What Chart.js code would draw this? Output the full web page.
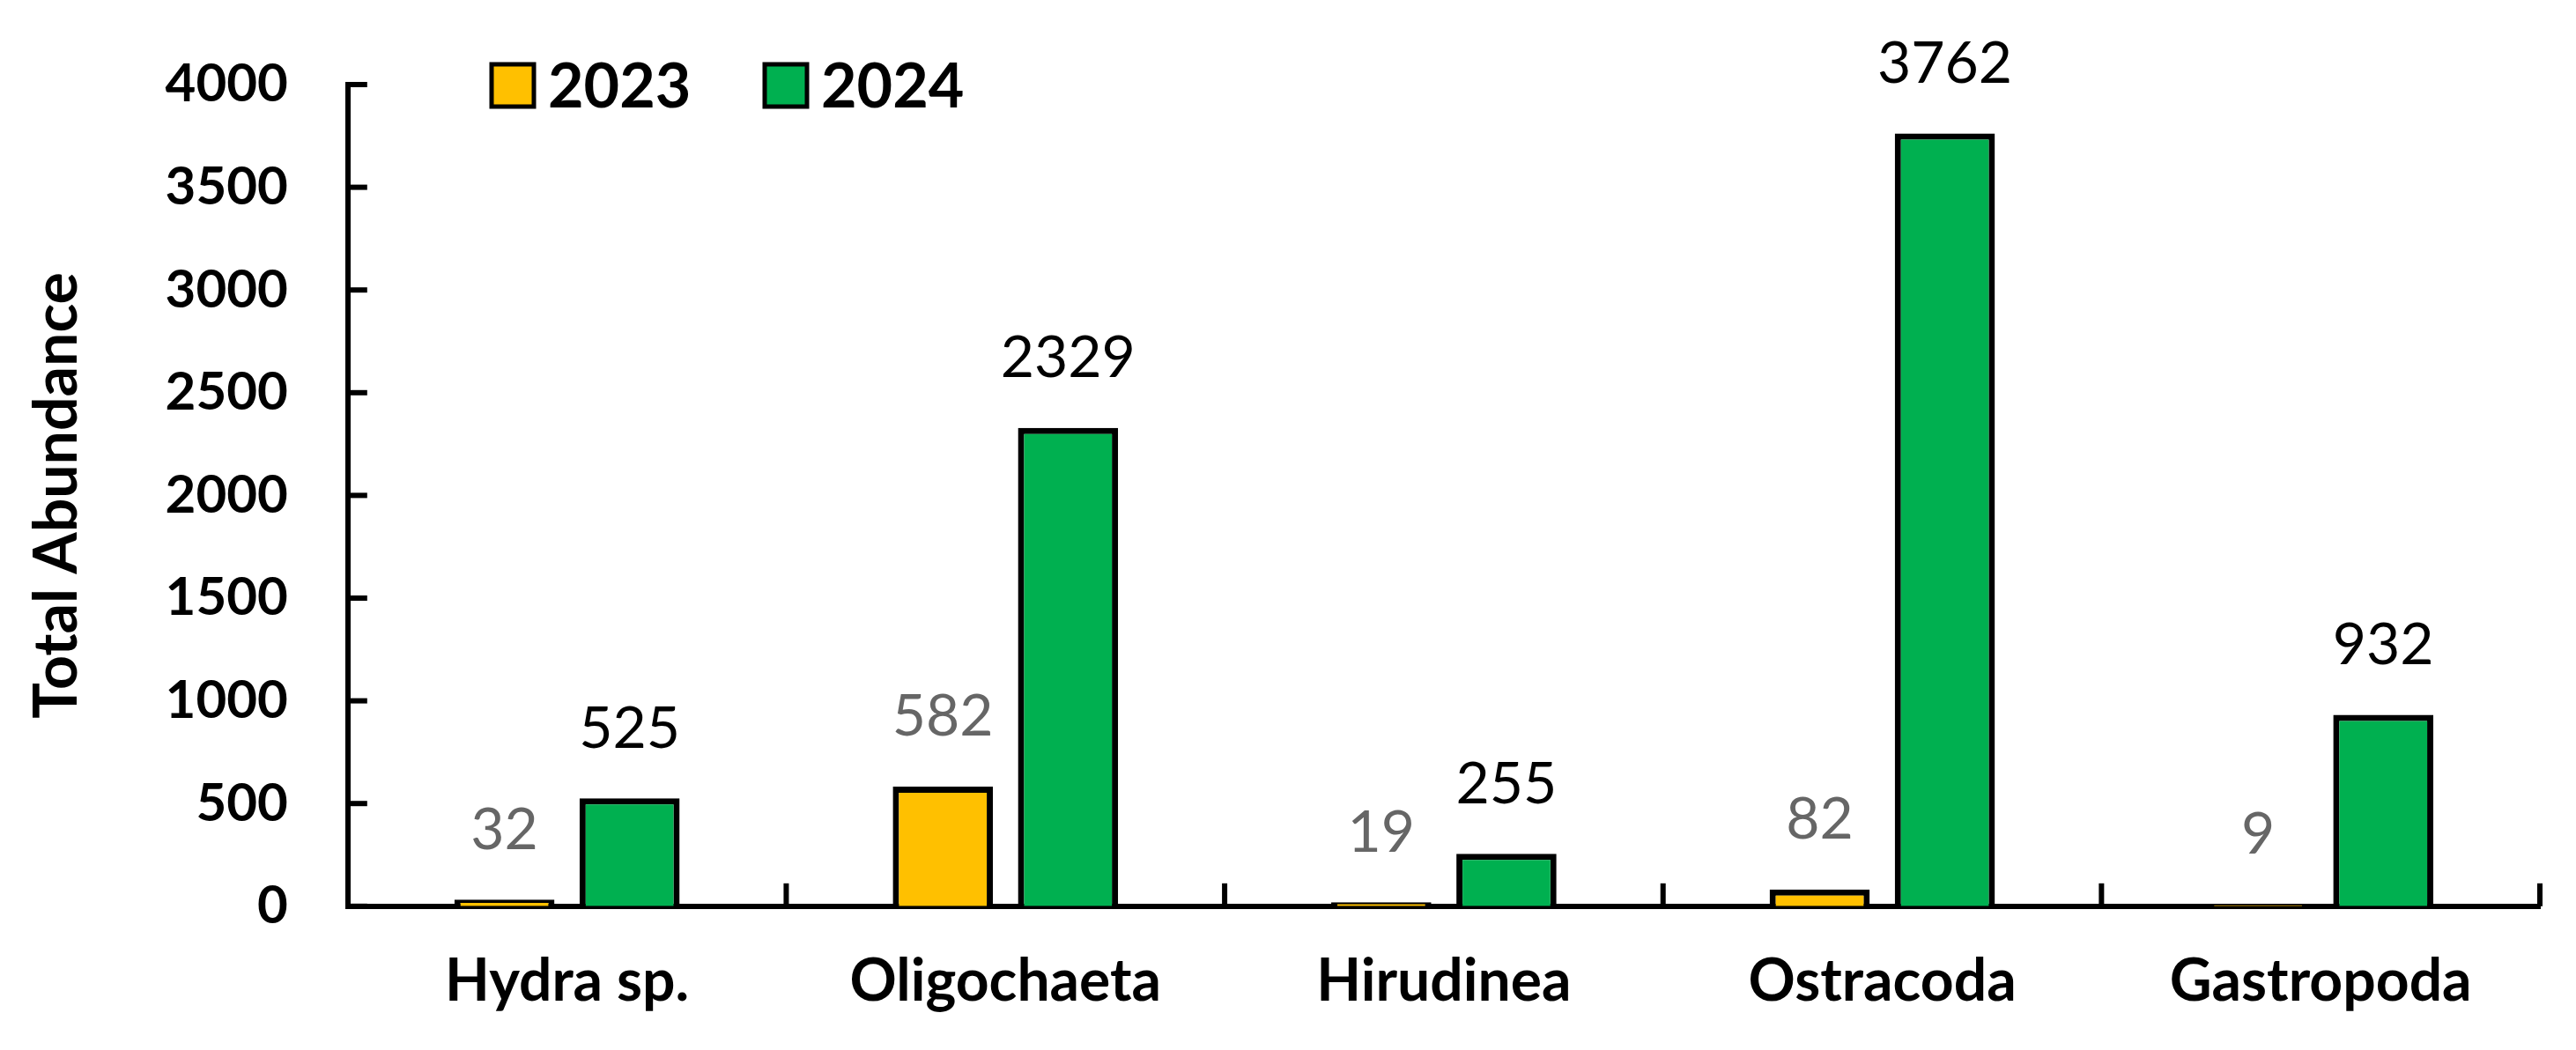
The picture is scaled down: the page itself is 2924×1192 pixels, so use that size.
<!DOCTYPE html>
<html>
<head>
<meta charset="utf-8">
<script src="https://cdn.jsdelivr.net/npm/chart.js@4.4.1/dist/chart.umd.min.js"></script>
<style>
  html, body { margin: 0; padding: 0; background: #fff; }
  #wrap { width: 2924px; height: 1192px; }
</style>
</head>
<body>
<div id="wrap"><canvas id="chart"></canvas></div>
<script>
const categories = ["Hydra sp.", "Oligochaeta", "Hirudinea", "Ostracoda", "Gastropoda"];
const years = ["2023", "2024"];
const values2023 = [32, 582, 19, 82, 9];
const values2024 = [525, 2329, 255, 3762, 932];
const yTicks = [0, 500, 1000, 1500, 2000, 2500, 3000, 3500, 4000];

const FONT = "Lato, 'Open Sans', sans-serif";
const colors = ["#FFC000", "#00B050"];
const labelColors = ["#666666", "#000000"];

// inward tick marks on both axes, like the original
const axisTicks = {
    id: "axisTicks",
    afterDraw(chart) {
        const ctx = chart.ctx;
        const x = chart.scales.x, y = chart.scales.y;
        const area = chart.chartArea;
        ctx.save();
        ctx.strokeStyle = "#000";
        ctx.lineWidth = 6;
        yTicks.forEach(v => {
            const py = y.getPixelForValue(v);
            ctx.beginPath();
            ctx.moveTo(area.left, py);
            ctx.lineTo(area.left + 22, py);
            ctx.stroke();
        });
        for (let i = 1; i <= categories.length; i++) {
            const px = x.getPixelForValue(i - 0.5);
            ctx.beginPath();
            ctx.moveTo(px, area.bottom);
            ctx.lineTo(px, area.bottom - 26);
            ctx.stroke();
        }
        ctx.restore();
    }
};

const valueLabels = {
    id: "valueLabels",
    afterDatasetsDraw(chart) {
        const ctx = chart.ctx;
        ctx.save();
        ctx.font = "66px " + FONT;
        ctx.textAlign = "center";
        ctx.textBaseline = "bottom";
        chart.data.datasets.forEach((ds, di) => {
            ctx.fillStyle = labelColors[di];
            chart.getDatasetMeta(di).data.forEach((bar, i) => {
                ctx.fillText(String(ds.data[i]), bar.x, bar.y - 46);
            });
        });
        ctx.restore();
    }
};

const customLegend = {
    id: "customLegend",
    afterDraw(chart) {
        const ctx = chart.ctx;
        const starts = [558, 868];
        ctx.save();
        ctx.font = "bold 70px " + FONT;
        ctx.textBaseline = "middle";
        years.forEach((yr, i) => {
            ctx.fillStyle = colors[i];
            ctx.fillRect(starts[i], 73, 48, 48);
            ctx.strokeStyle = "#000";
            ctx.lineWidth = 5;
            ctx.strokeRect(starts[i], 73, 48, 48);
            ctx.fillStyle = "#000";
            ctx.fillText(yr, starts[i] + 64, 99);
        });
        ctx.restore();
    }
};

new Chart(document.getElementById("chart"), {
    type: "bar",
    data: {
        labels: categories,
        datasets: [
            { label: years[0], data: values2023, backgroundColor: colors[0] },
            { label: years[1], data: values2024, backgroundColor: colors[1] }
        ].map(d => Object.assign(d, {
            borderColor: "#000", borderWidth: 7, borderSkipped: "bottom",
            categoryPercentage: 0.571, barPercentage: 0.8
        }))
    },
    options: {
        responsive: true,
        maintainAspectRatio: false,
        animation: false,
        devicePixelRatio: 1,
        layout: { padding: { top: 55, right: 41, left: 20, bottom: 0 } },
        plugins: { legend: { display: false }, tooltip: { enabled: false } },
        scales: {
            x: {
                grid: { display: false },
                border: { display: true, color: "#000", width: 6 },
                ticks: { color: "#000", padding: 38, font: { family: FONT, size: 66, weight: "bold" } }
            },
            y: {
                min: 0, max: 4000,
                afterBuildTicks: s => { s.ticks = yTicks.map(v => ({ value: v })); },
                grid: { display: false },
                border: { display: true, color: "#000", width: 6 },
                ticks: { color: "#000", padding: 60, callback: v => String(v),
                         font: { family: FONT, size: 60, weight: "bold" } },
                title: {
                    display: true, text: "Total Abundance", color: "#000",
                    font: { family: FONT, size: 68, weight: "bold" }, padding: { bottom: 22 }
                }
            }
        }
    },
    plugins: [axisTicks, valueLabels, customLegend]
});
</script>
</body>
</html>
